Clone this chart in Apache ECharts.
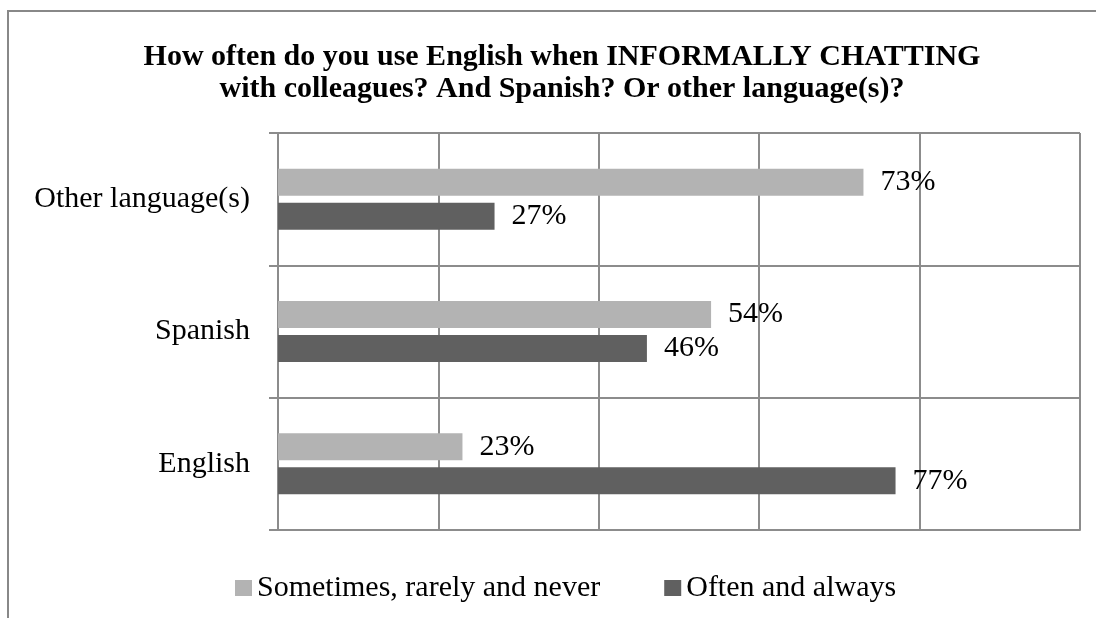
<!DOCTYPE html>
<html>
<head>
<meta charset="utf-8">
<title>Informal chatting language use</title>
<script src="https://cdn.jsdelivr.net/npm/echarts@6/dist/echarts.min.js"></script>
<style>
  html, body { margin: 0; padding: 0; background: #ffffff; }
  #chart { width: 1096px; height: 618px; }
</style>
</head>
<body>
<div id="chart"></div>
<script>
// Languages, listed bottom to top along the category axis
const categories = ['English', 'Spanish', 'Other language(s)'];
// Share of respondents (%) for each frequency group
const sometimesValues = [23, 54, 73];
const oftenValues = [77, 46, 27];
const seriesNames = ['Sometimes, rarely and never', 'Often and always'];
const titleLines = [
  'How often do you use English when INFORMALLY CHATTING',
  'with colleagues? And Spanish? Or other language(s)?'
];

const FONT = '"Liberation Serif", "Times New Roman", serif';
const LINE = '#8c8c8c';

const chart = echarts.init(document.getElementById('chart'), null, { renderer: 'canvas' });

const labelStyle = {
  show: true,
  position: 'right',
  distance: 17,
  formatter: p => p.value + '%',
  fontFamily: FONT,
  fontSize: 30,
  color: '#000000'
};

chart.setOption({
  animation: false,
  backgroundColor: '#ffffff',
  graphic: [{
    type: 'rect',
    shape: { x: 8, y: 11, width: 2000, height: 2000 },
    style: { fill: 'none', stroke: '#888888', lineWidth: 2 },
    silent: true,
    z: -10
  }],
  title: {
    text: titleLines.join('\n'),
    left: 557,
    top: 36,
    textAlign: 'center',
    textStyle: {
      fontFamily: FONT,
      fontWeight: 'bold',
      fontSize: 30,
      lineHeight: 32,
      color: '#000000'
    }
  },
  legend: {
    data: seriesNames,
    left: 230,
    top: 568,
    icon: 'rect',
    itemWidth: 17,
    itemHeight: 16,
    itemGap: 64,
    textStyle: { fontFamily: FONT, fontSize: 30, color: '#000000' }
  },
  grid: { left: 278, right: 16, top: 133, bottom: 88, containLabel: false },
  xAxis: {
    type: 'value',
    min: 0,
    max: 100,
    interval: 20,
    axisLabel: { show: false },
    axisTick: { show: false },
    axisLine: { show: true, lineStyle: { color: LINE, width: 2 } },
    splitLine: { show: true, lineStyle: { color: LINE, width: 2 } }
  },
  yAxis: {
    type: 'category',
    data: categories,
    axisLine: { show: true, lineStyle: { color: LINE, width: 2 } },
    axisTick: { show: true, length: 9, lineStyle: { color: LINE, width: 2 } },
    splitLine: { show: true, lineStyle: { color: LINE, width: 2 } },
    axisLabel: { fontFamily: FONT, fontSize: 30, color: '#000000', margin: 28 }
  },
  series: [
    {
      name: seriesNames[0],
      type: 'bar',
      data: sometimesValues,
      barWidth: 27,
      barGap: '26%',
      itemStyle: { color: '#b3b3b3' },
      label: labelStyle
    },
    {
      name: seriesNames[1],
      type: 'bar',
      data: oftenValues,
      barWidth: 27,
      barGap: '26%',
      itemStyle: { color: '#606060' },
      label: labelStyle
    }
  ]
});
</script>
</body>
</html>
